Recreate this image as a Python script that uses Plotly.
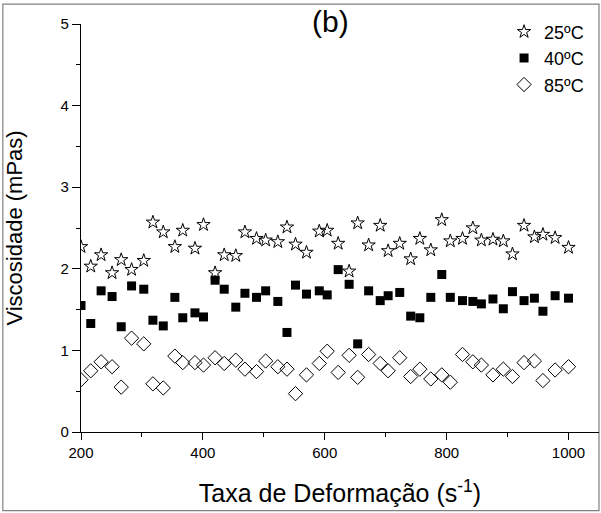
import plotly.graph_objects as go

# Shear rate (s^-1) shared by the three temperature series
taxa = [200, 216, 233, 251, 266, 283, 303, 318, 335, 354, 367, 387, 401, 420,
        435, 454, 469, 488, 503, 523, 538, 552, 570, 591, 604, 622, 640, 654,
        672, 691, 704, 723, 741, 756, 774, 792, 806, 826, 843, 857, 876, 893,
        908, 927, 944, 958, 978, 1000]

# Viscosity (mPas) at each temperature
visc_25 = [2.27, 2.03, 2.17, 1.95, 2.11, 1.99, 2.10, 2.57, 2.45, 2.27, 2.47, 2.25,
           2.54, 1.95, 2.17, 2.16, 2.45, 2.37, 2.35, 2.33, 2.51, 2.30, 2.20, 2.46,
           2.47, 2.31, 1.97, 2.56, 2.29, 2.53, 2.22, 2.31, 2.12, 2.37, 2.23, 2.60,
           2.34, 2.37, 2.50, 2.35, 2.36, 2.34, 2.18, 2.53, 2.39, 2.42, 2.38, 2.26]
visc_40 = [1.55, 1.33, 1.73, 1.66, 1.29, 1.79, 1.75, 1.37, 1.30, 1.65, 1.40, 1.46,
           1.41, 1.86, 1.75, 1.53, 1.70, 1.65, 1.73, 1.60, 1.22, 1.80, 1.69, 1.73,
           1.68, 1.99, 1.81, 1.08, 1.73, 1.61, 1.67, 1.71, 1.42, 1.40, 1.65, 1.93,
           1.65, 1.61, 1.60, 1.57, 1.63, 1.51, 1.72, 1.61, 1.64, 1.48, 1.67, 1.64]
visc_85 = [0.64, 0.75, 0.86, 0.80, 0.55, 1.15, 1.08, 0.59, 0.54, 0.93, 0.85, 0.85,
           0.82, 0.91, 0.84, 0.88, 0.77, 0.74, 0.87, 0.80, 0.77, 0.47, 0.70, 0.84,
           0.99, 0.73, 0.94, 0.67, 0.95, 0.84, 0.75, 0.91, 0.68, 0.77, 0.65, 0.70,
           0.61, 0.95, 0.86, 0.82, 0.70, 0.77, 0.68, 0.85, 0.87, 0.63, 0.76, 0.80]

series = [
    ("25ºC", visc_25, dict(symbol="star-open", size=10, color="black",
                           line=dict(width=1, color="black"))),
    ("40ºC", visc_40, dict(symbol="square", size=9, color="black",
                           line=dict(width=0))),
    ("85ºC", visc_85, dict(symbol="diamond-open", size=11, color="black",
                           line=dict(width=1, color="black"))),
]

fig = go.Figure()
for name, vals, marker in series:
    fig.add_trace(go.Scatter(x=taxa, y=vals, mode="markers", name=name,
                             marker=marker))

font = "Arial"
W, H = 601, 513
L, R, T, B = 80.7, 2, 23.5, 80.7
pw, ph = W - L - R, H - T - B


def px_x(p):
    return (p - L) / pw


def px_y(p):
    return (H - B - p) / ph


fig.update_layout(
    width=W, height=H,
    margin=dict(l=L, r=R, t=T, b=B, pad=0),
    paper_bgcolor="white", plot_bgcolor="white",
    font=dict(family=font, color="black", size=15),
    showlegend=True,
    legend=dict(x=px_x(504), y=px_y(13), xanchor="left", yanchor="top",
                bgcolor="rgba(0,0,0,0)", font=dict(size=18, family=font),
                itemsizing="trace", tracegroupgap=0),
    xaxis=dict(range=[200, 1050], showgrid=False, zeroline=False,
               showline=True, linecolor="black", linewidth=1.3,
               ticks="outside", ticklen=7, tickwidth=1, tickcolor="black",
               tickvals=[200, 400, 600, 800, 1000],
               minor=dict(ticks="outside", ticklen=4, tickwidth=1,
                          tickcolor="black", dtick=100, tick0=200),
               tickfont=dict(size=15),
               title=dict(text="Taxa de Deformação (s<sup>-1</sup>)",
                          font=dict(size=25), standoff=24)),
    yaxis=dict(range=[0, 5], showgrid=False, zeroline=False,
               showline=True, linecolor="black", linewidth=1.3,
               ticks="outside", ticklen=8, tickwidth=1, tickcolor="black",
               dtick=1, tick0=0,
               minor=dict(ticks="outside", ticklen=4, tickwidth=1,
                          tickcolor="black", dtick=0.5),
               tickfont=dict(size=15),
               title=dict(text="Viscosidade (mPas)", font=dict(size=22),
                          standoff=31)),
    annotations=[dict(text="(b)", xref="paper", yref="paper",
                      x=px_x(330), y=px_y(21), xanchor="center",
                      yanchor="middle", showarrow=False,
                      font=dict(size=30, family=font))],
    shapes=[dict(type="rect", xref="paper", yref="paper",
                 x0=px_x(2.5), x1=px_x(599), y0=px_y(511), y1=px_y(3.5),
                 line=dict(color="#808080", width=1.2), layer="below")],
)

fig.write_html("out.html")
